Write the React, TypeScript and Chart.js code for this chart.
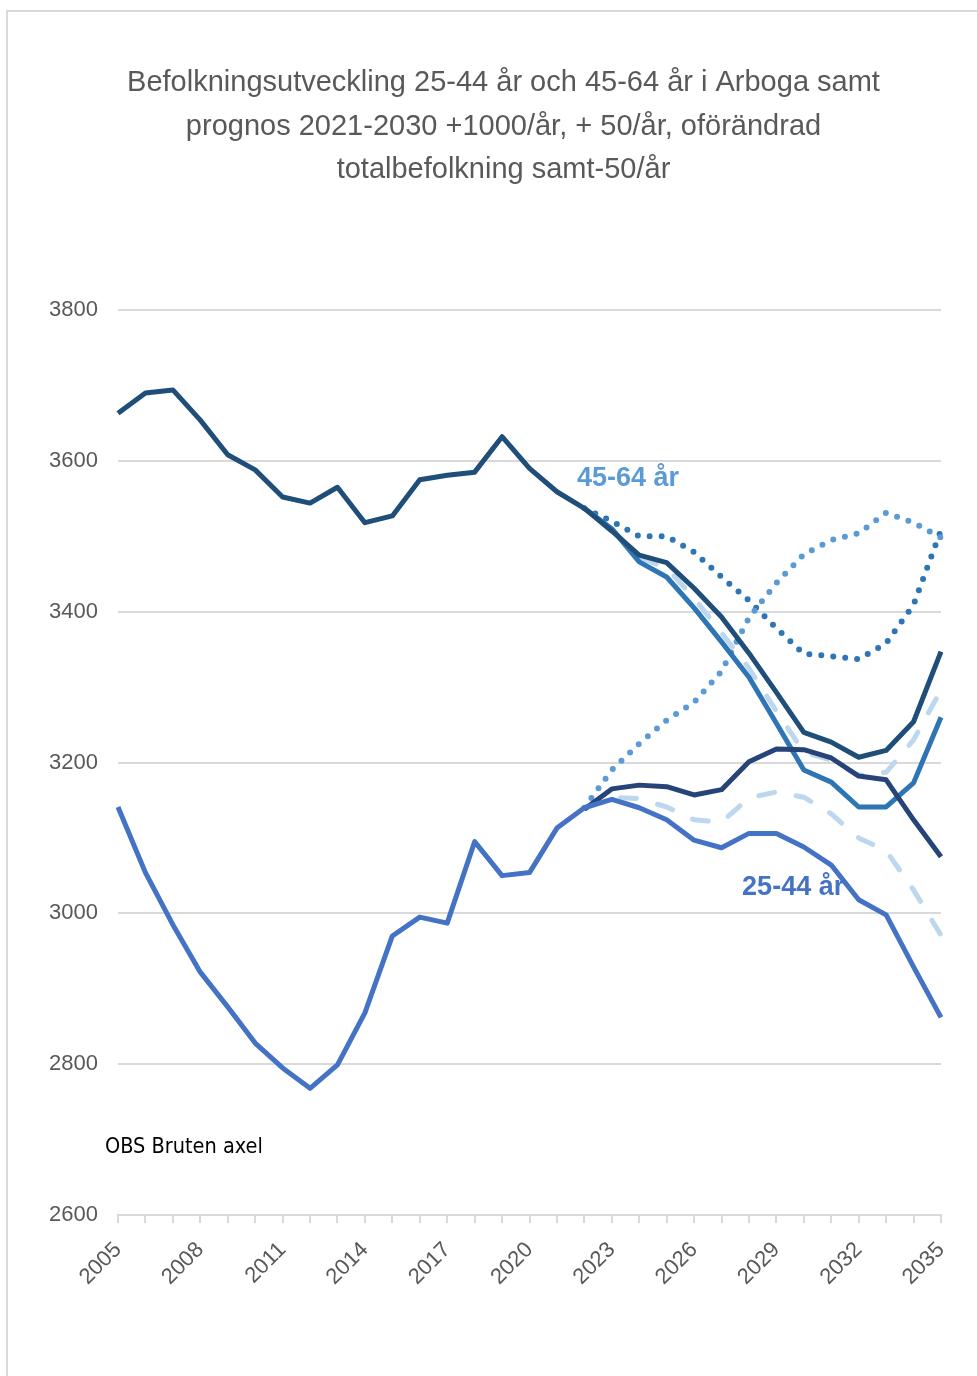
import React, { useEffect, useRef } from "react";
import { Chart, registerables } from "chart.js";

Chart.register(...registerables);

const years = [
  "2005", "2006", "2007", "2008", "2009", "2010", "2011", "2012", "2013", "2014",
  "2015", "2016", "2017", "2018", "2019", "2020", "2021", "2022", "2023", "2024",
  "2025", "2026", "2027", "2028", "2029", "2030", "2031", "2032", "2033", "2034", "2035",
];

const shownYearLabels = ["2005", "2008", "2011", "2014", "2017", "2020", "2023", "2026", "2029", "2032", "2035"];

const yTicks = [2600, 2800, 3000, 3200, 3400, 3600, 3800];

const N = null;
const before2022 = [N, N, N, N, N, N, N, N, N, N, N, N, N, N, N, N, N];

// 45-64 år
const age4564Main = [
  3663, 3690, 3694, 3654, 3608, 3588, 3552, 3544, 3565, 3518, 3527, 3575, 3581, 3585, 3632, 3590, 3559,
  3537, 3507, 3475, 3465, 3431, 3393, 3345, 3293, 3240, 3227, 3207, 3216, 3254, 3347,
];
const age4564Minus50 = [...before2022, 3537, 3510, 3466, 3446, 3405, 3360, 3313, 3252, 3190, 3174, 3141, 3141, 3173, 3260];
const age4564Same = [...before2022, 3537, 3509, 3472, 3458, 3418, 3372, 3325, 3268, 3214, 3203, 3183, 3187, 3230, 3296];
const age4564Plus1000 = [...before2022, 3537, 3520, 3500, 3500, 3479, 3446, 3415, 3378, 3344, 3341, 3337, 3358, 3409, 3508];

// 25-44 år
const age2544Main = [
  3141, 3054, 2985, 2922, 2876, 2828, 2795, 2768, 2799, 2868, 2970, 2995, 2987, 3095, 3050, 3054, 3113,
  3140, 3151, 3140, 3124, 3097, 3087, 3106, 3106, 3088, 3064, 3018, 2998, 2929, 2862,
];
const age2544Plus50 = [...before2022, 3138, 3165, 3170, 3168, 3157, 3164, 3201, 3218, 3217, 3206, 3182, 3177, 3124, 3075];
const age2544Same = [...before2022, 3140, 3154, 3152, 3141, 3124, 3121, 3153, 3161, 3154, 3132, 3100, 3083, 3031, 2971];
const age2544Plus1000 = [...before2022, 3140, 3190, 3225, 3256, 3280, 3321, 3392, 3438, 3476, 3495, 3504, 3531, 3518, 3498];

const titleLines = [
  "Befolkningsutveckling 25-44 år och 45-64 år i Arboga samt",
  "prognos 2021-2030 +1000/år, + 50/år, oförändrad",
  "totalbefolkning samt-50/år",
];

const label4564 = { text: "45-64 år", index: 16.73, value: 3567, color: "#5B9BD5" };
const label2544 = { text: "25-44 år", index: 22.75, value: 3024, color: "#4472C4" };
const noteText = { text: "OBS Bruten axel", value: 2682 };

const FONT = '"Liberation Sans", Arial, sans-serif';
const NARROW = '"DejaVu Sans Condensed", "Liberation Sans Narrow", sans-serif';

const textPlugin = {
  id: "textPlugin",
  afterDraw(chart: any) {
    const ctx = chart.ctx;
    const xs = chart.scales.x;
    const ys = chart.scales.y;
    const area = chart.chartArea;
    ctx.save();
    ctx.fillStyle = "#595959";
    ctx.font = `29px ${FONT}`;
    ctx.textAlign = "center";
    ctx.textBaseline = "alphabetic";
    const cx = (area.left + area.right) / 2 - 26;
    titleLines.forEach((t, i) => ctx.fillText(t, cx, 91 + i * 43.5));

    ctx.textAlign = "left";
    ctx.font = `bold 27px ${FONT}`;
    for (const l of [label4564, label2544]) {
      ctx.fillStyle = l.color;
      ctx.fillText(l.text, xs.getPixelForValue(l.index), ys.getPixelForValue(l.value));
    }
    ctx.fillStyle = "#000000";
    ctx.font = `21.5px ${NARROW}`;
    ctx.fillText(noteText.text, area.left - 13, ys.getPixelForValue(noteText.value));
    ctx.restore();
  },
};

function line(label: string, data: (number | null)[], color: string, style: "solid" | "dash" | "dot", order: number) {
  const ds: any = {
    label,
    data,
    borderColor: color,
    backgroundColor: color,
    borderWidth: 5,
    pointRadius: 0,
    tension: 0,
    fill: false,
    spanGaps: false,
    borderJoinStyle: "round",
    borderCapStyle: "butt",
    order,
  };
  if (style === "dash") {
    ds.borderDash = [16, 22];
    ds.borderCapStyle = "round";
    ds.borderWidth = 5;
  } else if (style === "dot") {
    ds.borderDash = [0, 12];
    ds.borderCapStyle = "round";
    ds.borderWidth = 6;
  }
  return ds;
}

export default function App() {
  const ref = useRef<HTMLCanvasElement | null>(null);
  useEffect(() => {
    if (!ref.current) return;
    const chart = new Chart(ref.current, {
      type: "line",
      data: {
        labels: years,
        datasets: [
          line("45-64 år +1000/år", age4564Plus1000, "#2E75B6", "dot", 8),
          line("25-44 år +1000/år", age2544Plus1000, "#5B9BD5", "dot", 7),
          line("45-64 år oförändrad", age4564Same, "#BDD7EE", "dash", 6),
          line("25-44 år oförändrad", age2544Same, "#BDD7EE", "dash", 5),
          line("45-64 år -50/år", age4564Minus50, "#2E75B6", "solid", 4),
          line("25-44 år +50/år", age2544Plus50, "#264478", "solid", 3),
          line("25-44 år", age2544Main, "#4472C4", "solid", 2),
          line("45-64 år", age4564Main, "#1F4E79", "solid", 1),
        ],
      },
      options: {
        animation: false,
        responsive: false,
        maintainAspectRatio: false,
        layout: { padding: { left: 48, right: 36, top: 310, bottom: 61 } },
        plugins: {
          legend: { display: false },
          title: { display: false },
          tooltip: { enabled: false },
        },
        scales: {
          x: {
            offset: false,
            grid: {
              display: true,
              drawOnChartArea: false,
              drawTicks: true,
              tickLength: 8,
              color: "#D9D9D9",
              lineWidth: 2,
            },
            border: { display: true, color: "#D9D9D9", width: 2 },
            ticks: {
              autoSkip: false,
              maxRotation: 45,
              minRotation: 45,
              padding: 14,
              color: "#595959",
              font: { family: FONT, size: 22 },
              callback: (_v: any, i: number) => (shownYearLabels.includes(years[i]) ? years[i] : ""),
            },
            afterFit: (s: any) => {
              s.height = 100;
            },
          },
          y: {
            min: yTicks[0],
            max: yTicks[yTicks.length - 1],
            afterBuildTicks: (s: any) => {
              s.ticks = yTicks.map((v) => ({ value: v }));
            },
            grid: { color: "#D9D9D9", lineWidth: 2, drawTicks: false },
            border: { display: false },
            ticks: {
              padding: 20,
              color: "#595959",
              font: { family: FONT, size: 22 },
              callback: (v: any) => String(v),
            },
            afterFit: (s: any) => {
              s.width = 70;
            },
          },
        },
      },
      plugins: [textPlugin],
    } as any);
    return () => chart.destroy();
  }, []);

  return (
    <div style={{ position: "absolute", left: 0, top: 0, width: 977, height: 1376, background: "#ffffff", overflow: "hidden" }}>
      <div
        style={{
          position: "absolute",
          left: 6,
          top: 10,
          width: 1000,
          height: 1400,
          borderLeft: "2px solid #D9D9D9",
          borderTop: "2px solid #D9D9D9",
        }}
      />
      <canvas ref={ref} width={977} height={1376} style={{ position: "absolute", left: 0, top: 0, display: "block" }} />
    </div>
  );
}
